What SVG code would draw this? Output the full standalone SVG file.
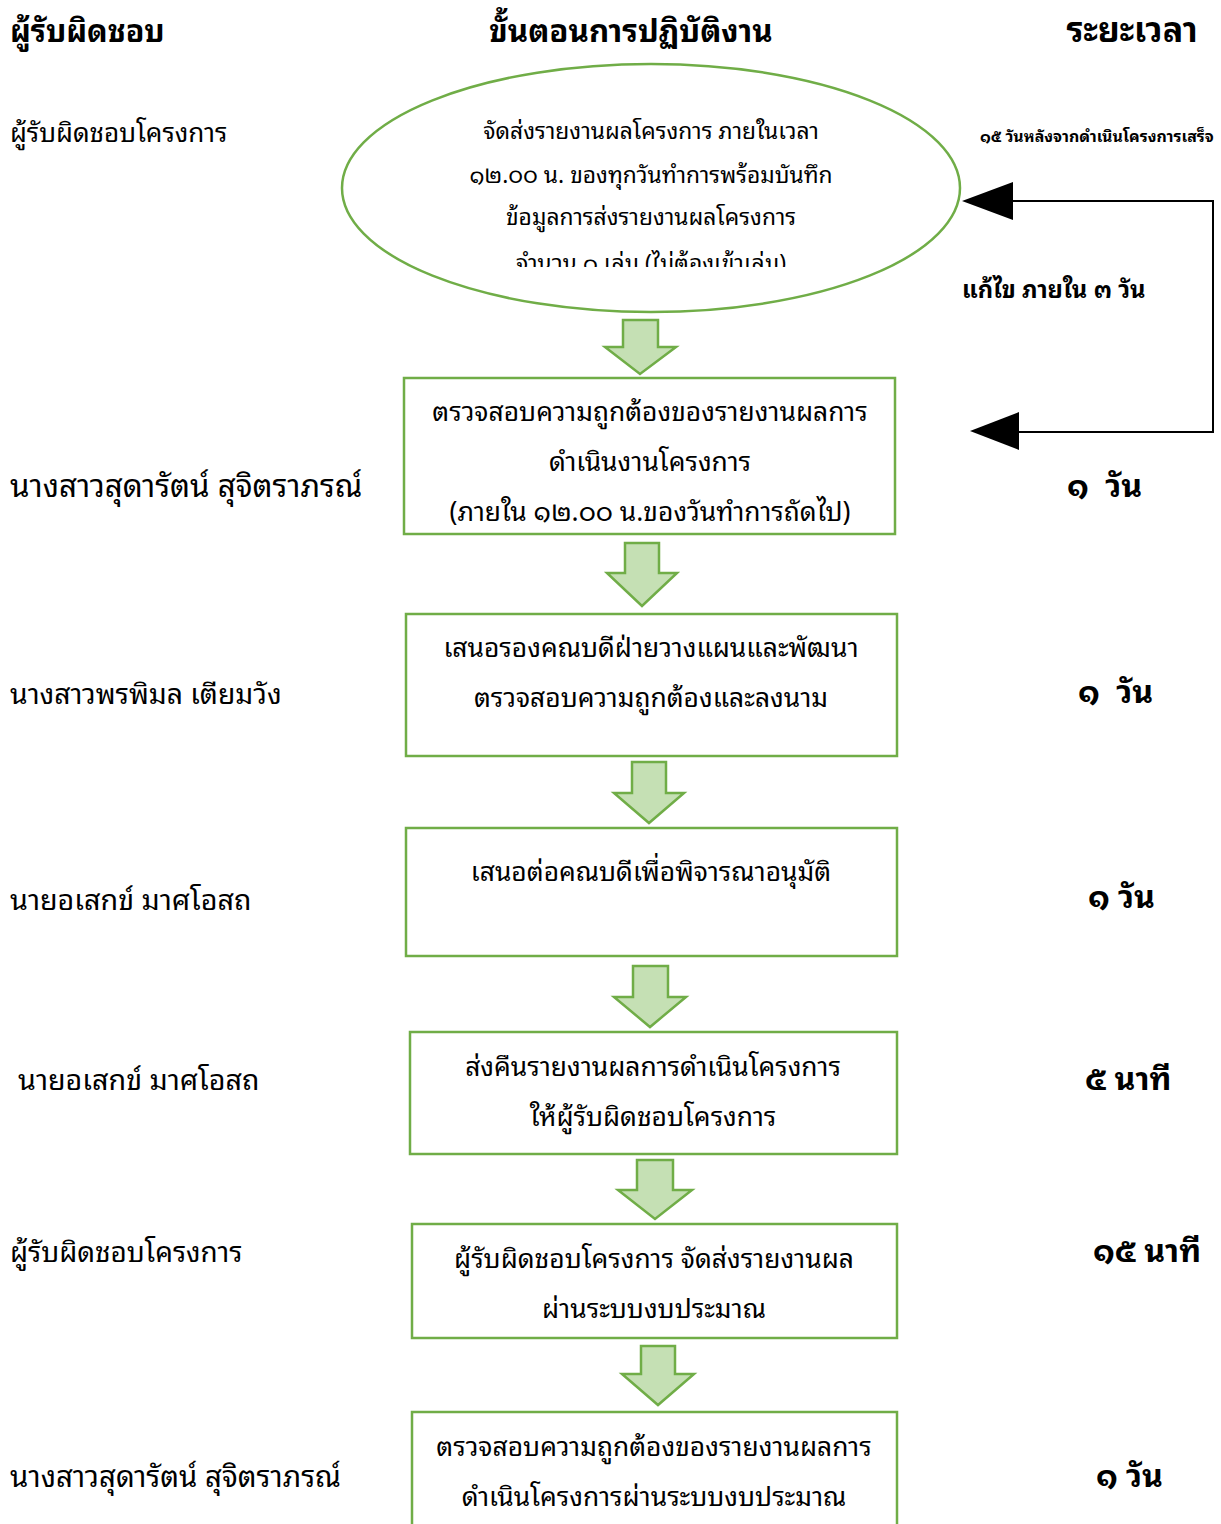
<svg xmlns="http://www.w3.org/2000/svg" width="1221" height="1524" viewBox="0 0 1221 1524">
<defs>
<style>
text{font-family:"Noto Sans Thai Looped","Noto Sans Thai","Noto Sans","DejaVu Sans",sans-serif;fill:#000;}
.hd{font-weight:bold;}
.tm{font-size:32px;font-weight:bold;}
.bx{font-size:26.4px;text-anchor:middle;}
.el{font-size:22.8px;text-anchor:middle;}
.node{fill:#fff;stroke:#70AD47;stroke-width:2.5;}
.barrow{fill:#C5E0B4;stroke:#70AD47;stroke-width:2.5;stroke-linejoin:miter;}
.fb{fill:none;stroke:#000;stroke-width:2;}
</style>
<clipPath id="elclip"><rect x="340" y="60" width="625" height="207"/></clipPath>
</defs>
<rect width="1221" height="1524" fill="#fff"/>
<g id="headers">
<text class="hd" style="font-size:30.4px" x="10" y="42">ผู้รับผิดชอบ</text>
<text class="hd" style="font-size:31.2px" x="631" y="42" text-anchor="middle">ขั้นตอนการปฏิบัติงาน</text>
<text class="hd" style="font-size:34px" x="1132" y="42" text-anchor="middle">ระยะเวลา</text>
</g>
<g id="responsible">
<text style="font-size:26.1px" x="10" y="142">ผู้รับผิดชอบโครงการ</text>
<text style="font-size:31.3px" x="10" y="497">นางสาวสุดารัตน์ สุจิตราภรณ์</text>
<text style="font-size:28.3px" x="10" y="704">นางสาวพรพิมล เตียมวัง</text>
<text style="font-size:28.7px" x="10" y="910">นายอเสกข์ มาศโอสถ</text>
<text style="font-size:28.7px" x="18" y="1090">นายอเสกข์ มาศโอสถ</text>
<text style="font-size:27.9px" x="10" y="1262">ผู้รับผิดชอบโครงการ</text>
<text style="font-size:29.4px" x="10" y="1487">นางสาวสุดารัตน์ สุจิตราภรณ์</text>
</g>
<g id="durations">
<text style="font-size:15.9px;font-weight:bold" x="980" y="142">๑๕ วันหลังจากดำเนินโครงการเสร็จ</text>
<text style="font-size:23.7px;font-weight:bold" x="962" y="298">แก้ไข ภายใน ๓ วัน</text>
<text class="tm" x="1067" y="497" xml:space="preserve">๑  วัน</text>
<text class="tm" x="1078" y="703" xml:space="preserve">๑  วัน</text>
<text class="tm" x="1088" y="908">๑ วัน</text>
<text class="tm" x="1085" y="1090">๕ นาที</text>
<text class="tm" x="1093" y="1262">๑๕ นาที</text>
<text class="tm" x="1096" y="1487">๑ วัน</text>
</g>
<g id="node-start">
<ellipse class="node" cx="651" cy="188" rx="309" ry="124"/>
<g clip-path="url(#elclip)">
<text class="el" x="651" y="139">จัดส่งรายงานผลโครงการ ภายในเวลา</text>
<text class="el" x="651" y="183">๑๒.๐๐ น. ของทุกวันทำการพร้อมบันทึก</text>
<text class="el" x="651" y="225">ข้อมูลการส่งรายงานผลโครงการ</text>
<text class="el" x="651" y="271">จำนวน ๑ เล่ม (ไม่ต้องเข้าเล่ม)</text>
</g>
</g>
<g id="node-1">
<rect class="node" x="404" y="378" width="491" height="156"/>
<text class="bx" x="650" y="421">ตรวจสอบความถูกต้องของรายงานผลการ</text>
<text class="bx" x="650" y="471">ดำเนินงานโครงการ</text>
<text class="bx" x="650" y="521">(ภายใน ๑๒.๐๐ น.ของวันทำการถัดไป)</text>
</g>
<g id="node-2">
<rect class="node" x="406" y="614" width="491" height="142"/>
<text class="bx" x="651" y="657">เสนอรองคณบดีฝ่ายวางแผนและพัฒนา</text>
<text class="bx" x="651" y="707">ตรวจสอบความถูกต้องและลงนาม</text>
</g>
<g id="node-3">
<rect class="node" x="406" y="828" width="491" height="128"/>
<text class="bx" x="651" y="881">เสนอต่อคณบดีเพื่อพิจารณาอนุมัติ</text>
</g>
<g id="node-4">
<rect class="node" x="410" y="1032" width="487" height="122"/>
<text class="bx" x="653" y="1076">ส่งคืนรายงานผลการดำเนินโครงการ</text>
<text class="bx" x="653" y="1126">ให้ผู้รับผิดชอบโครงการ</text>
</g>
<g id="node-5">
<rect class="node" x="412" y="1224" width="485" height="114"/>
<text class="bx" x="654" y="1268">ผู้รับผิดชอบโครงการ จัดส่งรายงานผล</text>
<text class="bx" x="654" y="1318">ผ่านระบบงบประมาณ</text>
</g>
<g id="node-6">
<rect class="node" x="412" y="1412" width="485" height="130"/>
<text class="bx" x="654" y="1456">ตรวจสอบความถูกต้องของรายงานผลการ</text>
<text class="bx" x="654" y="1506">ดำเนินโครงการผ่านระบบงบประมาณ</text>
</g>
<g id="connectors">
<polygon class="barrow" points="623,320 658,320 658,347 676,347 640,374 605,347 623,347"/>
<polygon class="barrow" points="625,543 659,543 659,573 677,573 642,606 607,573 625,573"/>
<polygon class="barrow" points="632,762 666,762 666,793 684,793 649,823 614,793 632,793"/>
<polygon class="barrow" points="633,966 668,966 668,997 686,997 650,1027 614,997 633,997"/>
<polygon class="barrow" points="637,1160 673,1160 673,1190 692,1190 655,1219 618,1190 637,1190"/>
<polygon class="barrow" points="641,1346 675,1346 675,1374 694,1374 658,1405 622,1374 641,1374"/>
<polyline class="fb" points="1010,201 1213,201 1213,432 1016,432"/>
<polygon points="962,201 1013,182 1013,220" fill="#000"/>
<polygon points="970,431 1019,412 1019,450" fill="#000"/>
</g>
</svg>
